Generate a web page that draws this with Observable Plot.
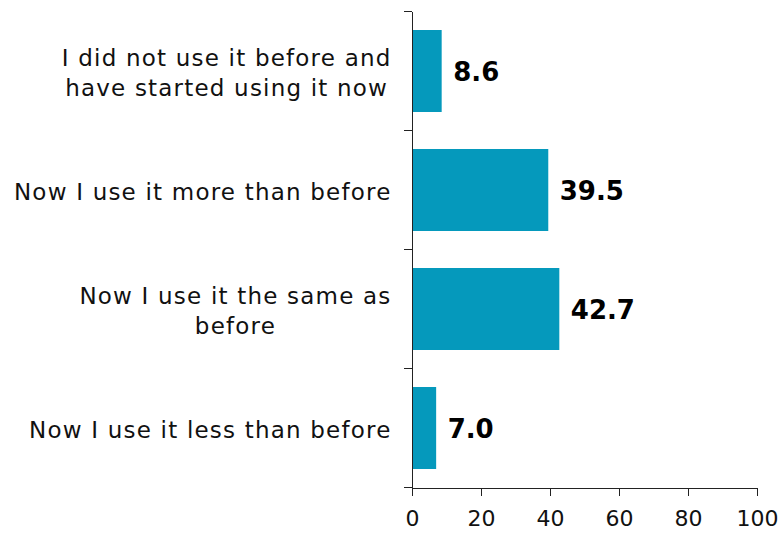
<!DOCTYPE html>
<html>
<head>
<meta charset="utf-8">
<script src="https://cdn.jsdelivr.net/npm/d3@7"></script>
<script src="https://cdn.jsdelivr.net/npm/@observablehq/plot@0.6"></script>
<style>
  html, body { margin: 0; padding: 0; background: white; }
</style>
</head>
<body>
<div id="chart"></div>
<script>
const categories = [
  "I did not use it before and\nhave started using it now",
  "Now I use it more than before",
  "Now I use it the same as\nbefore",
  "Now I use it less than before"
];
const values = [8.6, 39.5, 42.7, 7.0];
const xTicks = [0, 20, 40, 60, 80, 100];
const barColor = "#0599bc";

const data = categories.map((c, i) => ({category: c, value: values[i]}));

const plot = Plot.plot({
  width: 782,
  height: 537,
  marginLeft: 412,
  marginRight: 25,
  marginTop: 12,
  marginBottom: 49,
  style: {fontFamily: "DejaVu Sans", fontSize: "21px", background: "white", color: "black"},
  x: {domain: [0, 100]},
  y: {domain: categories, paddingInner: 0.31, paddingOuter: 0.155, axis: null},
  marks: [
    Plot.barX(data, {x: "value", y: "category", fill: barColor, insetLeft: 1}),
    Plot.text(data, {
      y: "category", text: "category", frameAnchor: "left", textAnchor: "end",
      dx: -21, lineHeight: 1.32, fontSize: 23, fill: "#111"
    }),
    Plot.text(data, {
      x: "value", y: "category", text: d => d.value.toFixed(1), textAnchor: "start",
      dx: 11, dy: 1, fontSize: 26, fontWeight: "bold", fill: "black"
    }),
    Plot.ruleX([0], {stroke: "#222"}),
    Plot.frame({anchor: "bottom", stroke: "#222"}),
    Plot.axisX({ticks: xTicks, tickSize: 8, tickPadding: 14, fontSize: 22, label: null, stroke: "#222", fill: "#111"})
  ]
});

document.getElementById("chart").appendChild(plot);

// Center the lines of multi-line category labels and apply letter spacing
const svg = d3.select(plot.tagName === "svg" ? plot : plot.querySelector("svg"));
const labelGroup = svg.selectAll('g[aria-label="text"]').nodes()[0];
d3.select(labelGroup).style("letter-spacing", "1.2px");
d3.select(labelGroup).selectAll("text").each(function() {
  const tspans = d3.select(this).selectAll("tspan");
  if (tspans.size() > 1) {
    const w = this.getBBox().width;
    d3.select(this).attr("text-anchor", "middle");
    tspans.attr("x", -w / 2);
  }
});

// Tick marks on the y axis at the band boundaries
const y = plot.scale("y");
const x = plot.scale("x");
const gap = (y.step - y.bandwidth) / 2;
const bounds = categories.map(c => y.apply(c) - gap);
bounds.push(bounds[bounds.length - 1] + y.step);
const x0 = x.apply(0);
svg.append("g").attr("stroke", "#222")
  .selectAll("line").data(bounds).join("line")
  .attr("x1", x0 - 8).attr("x2", x0)
  .attr("y1", d => d).attr("y2", d => d);
</script>
</body>
</html>
